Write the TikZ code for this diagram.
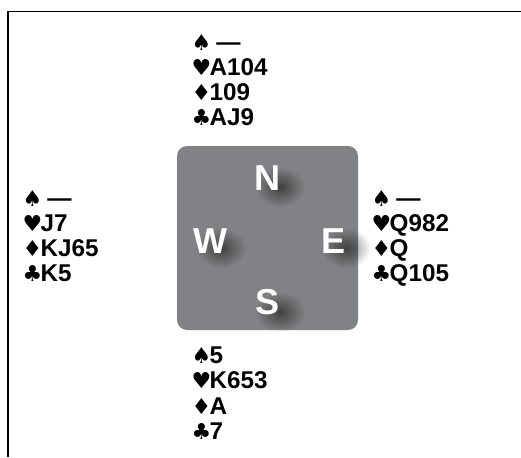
\documentclass[tikz,border=0pt]{standalone}
\usepackage{fontspec}
\setmainfont{Liberation Sans}
\newfontfamily\suitfont{DejaVu Sans}
\usetikzlibrary{fadings}
\definecolor{tablegray}{HTML}{808285}
\newcommand{\suit}[1]{{\suitfont\fontsize{12.5}{10}\selectfont\kern-1pt#1\kern-0.9pt}}
\tikzfading[name=blob, inner color=transparent!0, outer color=transparent!100]
\tikzset{
  hand/.style={anchor=base west, inner sep=0pt,
    font=\fontsize{13.8}{14}\selectfont\bfseries},
  seat/.style={anchor=base, inner sep=0pt, text=white,
    font=\fontsize{20.5}{20}\selectfont\bfseries},
  seatshadow/.style={fill=black, opacity=0.5, path fading=blob}
}

\begin{document}
\begin{tikzpicture}[x=0.02cm,y=-0.02cm]
\useasboundingbox (0,0) rectangle (521,457);
\draw[line width=1.1pt] (8,457)--(8,11.5)--(521,11.5);
% table
\fill[tablegray, rounded corners=5.7pt] (177,146) rectangle (358,330);
\fill[seatshadow] (280,187) ellipse (25 and 20);
\fill[seatshadow] (221,248) ellipse (25 and 20);
\fill[seatshadow] (346,248) ellipse (25 and 20);
\fill[seatshadow] (280,312) ellipse (25 and 20);
\node (n) at (267.5,190) [seat]{N};
\node (w) at (210,253) [seat]{W};
\node (e) at (334,253) [seat]{E};
\node (s) at (267.5,314) [seat]{S};
% north
\node (n1) at (193,50) [hand]{\suit{♠} —};
\node (n2) at (193,75) [hand]{\suit{♥}A104};
\node (n3) at (193,100) [hand]{\suit{♦}109};
\node (n4) at (193,125) [hand]{\suit{♣}AJ9};
% west
\node (w1) at (24,206) [hand]{\suit{♠} —};
\node (w2) at (24,231) [hand]{\suit{♥}J7};
\node (w3) at (24,256) [hand]{\suit{♦}KJ65};
\node (w4) at (24,281) [hand]{\suit{♣}K5};
% east
\node (e1) at (373,206) [hand]{\suit{♠} —};
\node (e2) at (373,231) [hand]{\suit{♥}Q982};
\node (e3) at (373,256) [hand]{\suit{♦}Q};
\node (e4) at (373,281) [hand]{\suit{♣}Q105};
% south
\node (s1) at (193,363) [hand]{\suit{♠}5};
\node (s2) at (193,388) [hand]{\suit{♥}K653};
\node (s3) at (193,414) [hand]{\suit{♦}A};
\node (s4) at (193,439) [hand]{\suit{♣}7};
\end{tikzpicture}
\end{document}
